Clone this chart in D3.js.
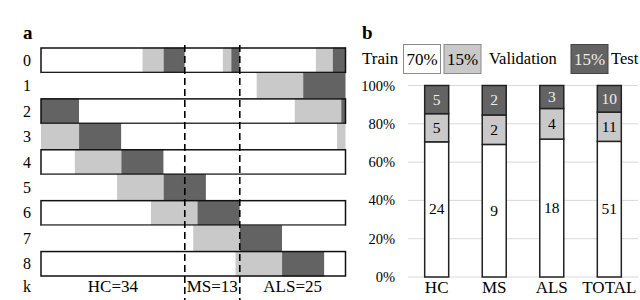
<!DOCTYPE html>
<html>
<head>
<meta charset="utf-8">
<script src="https://cdn.jsdelivr.net/npm/d3@7"></script>
<style>
  body { margin: 0; background: #fff; }
  svg { display: block; font-family: "Liberation Serif", "DejaVu Serif", serif; }
</style>
</head>
<body>
<div id="chart"></div>
<script>
var width = 640,
	height = 300;

// panel a: each row is a run-length list of [kind, subjects]
// t = train, v = validation, x = test
var rowLabels = ["0", "1", "2", "3", "4", "5", "6", "7", "8"];
var row0 = [["t",24],["v",5],["x",5],["t",9],["v",2],["x",2],["t",18],["v",4],["x",3]];
var row1 = [["t",51],["v",11],["x",10]];
var row2 = [["x",9],["t",51],["v",11],["x",1]];
var row3 = [["v",9],["x",10],["t",51],["v",2]];
var row4 = [["t",8],["v",11],["x",10],["t",43]];
var row5 = [["t",18],["v",11],["x",10],["t",33]];
var row6 = [["t",26],["v",11],["x",10],["t",25]];
var row7 = [["t",36],["v",11],["x",10],["t",15]];
var row8 = [["t",46],["v",11],["x",10],["t",5]];
var rows = [row0, row1, row2, row3, row4, row5, row6, row7, row8];
var groupNames = ["HC", "MS", "ALS"];
var groupSizes = [34, 13, 25];

// panel b
var categories = ["HC", "MS", "ALS", "TOTAL"];
var trainCounts = [24, 9, 18, 51];
var valCounts = [5, 2, 4, 11];
var testCounts = [5, 2, 3, 10];
var yTicks = [0, 0.2, 0.4, 0.6, 0.8, 1];

var fillOf = { t: "#ffffff", v: "#c9c9c9", x: "#636363" };

var svg = d3.select("#chart").append("svg")
	.attr("width", width)
	.attr("height", height);

// ---------- panel a ----------
var total = d3.sum(groupSizes);
var xa = d3.scaleLinear().domain([0, total]).range([41, 345.5]);
var ya = d3.scaleBand().domain(rowLabels).range([47.5, 276.5]).padding(0);

svg.append("text")
	.attr("x", 23).attr("y", 39)
	.attr("font-size", 19).attr("font-weight", "bold")
	.text("a");

rows.forEach(function(row, i) {
	var pos = 0;
	var g = svg.append("g");
	row.forEach(function(seg) {
		g.append("rect")
			.attr("x", xa(pos))
			.attr("y", ya(rowLabels[i]))
			.attr("width", xa(pos + seg[1]) - xa(pos))
			.attr("height", ya.bandwidth())
			.attr("fill", fillOf[seg[0]]);
		pos += seg[1];
	});
	if(i % 2 == 0) {
		g.append("rect")
			.attr("x", xa(0))
			.attr("y", ya(rowLabels[i]) + 0.5)
			.attr("width", xa(total) - xa(0))
			.attr("height", ya.bandwidth() - 1)
			.attr("fill", "none")
			.attr("stroke", "#111")
			.attr("stroke-width", 1.5);
	}
	svg.append("text")
		.attr("x", 27)
		.attr("y", ya(rowLabels[i]) + ya.bandwidth() / 2 + 5.5)
		.attr("text-anchor", "middle")
		.attr("font-size", 16)
		.text(rowLabels[i]);
});

svg.append("text")
	.attr("x", 27).attr("y", 292)
	.attr("text-anchor", "middle")
	.attr("font-size", 16)
	.text("k");

var cum = 0;
groupSizes.forEach(function(n, i) {
	svg.append("text")
		.attr("x", xa(cum + n / 2))
		.attr("y", 292)
		.attr("text-anchor", "middle")
		.attr("font-size", 17)
		.text(groupNames[i] + "=" + n);
	cum += n;
	if(i < groupSizes.length - 1) {
		svg.append("line")
			.attr("x1", xa(cum)).attr("x2", xa(cum))
			.attr("y1", 45).attr("y2", 300)
			.attr("stroke", "#000")
			.attr("stroke-width", 1.6)
			.attr("stroke-dasharray", "7,4");
	}
});

// ---------- panel b ----------
var xb = d3.scaleBand().domain(categories).range([408, 638])
	.paddingInner(0.583).paddingOuter(0.29);
var yb = d3.scaleLinear().domain([0, 1]).range([277, 85.5]);

svg.append("text")
	.attr("x", 362).attr("y", 39)
	.attr("font-size", 19).attr("font-weight", "bold")
	.text("b");

// legend
svg.append("text").attr("x", 362).attr("y", 64).attr("font-size", 17).text("Train");
var legendBoxes = [
	{ x: 403.5, fill: fillOf.t, stroke: "#8a8a8a", txt: "#000" },
	{ x: 444, fill: fillOf.v, stroke: "#8a8a8a", txt: "#000" },
	{ x: 571, fill: fillOf.x, stroke: "#444", txt: "#eee" }
];
var legendText = ["70%", "15%", "15%"];
legendBoxes.forEach(function(b, i) {
	svg.append("rect")
		.attr("x", b.x).attr("y", 44.5)
		.attr("width", 37).attr("height", 29)
		.attr("fill", b.fill)
		.attr("stroke", b.stroke).attr("stroke-width", 1);
	svg.append("text")
		.attr("x", b.x + 18.5).attr("y", 65)
		.attr("text-anchor", "middle")
		.attr("font-size", 17)
		.attr("fill", b.txt)
		.text(legendText[i]);
});
svg.append("text").attr("x", 489).attr("y", 64).attr("font-size", 16.5).text("Validation");
svg.append("text").attr("x", 611).attr("y", 64).attr("font-size", 16.5).text("Test");

// grid + y axis
svg.selectAll(".grid").data(yTicks).enter().append("line")
	.attr("class", "grid")
	.attr("x1", 408).attr("x2", 638)
	.attr("y1", function(d) { return yb(d); })
	.attr("y2", function(d) { return yb(d); })
	.attr("stroke", "#d9d9d9").attr("stroke-width", 1);

var pct = d3.format(".0%");
svg.selectAll(".ytick").data(yTicks).enter().append("text")
	.attr("class", "ytick")
	.attr("x", 395)
	.attr("y", function(d) { return yb(d) + 5; })
	.attr("text-anchor", "end")
	.attr("font-size", 14.5)
	.text(function(d) { return pct(d); });

categories.forEach(function(c, i) {
	var n = trainCounts[i] + valCounts[i] + testCounts[i];
	var parts = [
		{ k: "t", v: trainCounts[i] },
		{ k: "v", v: valCounts[i] },
		{ k: "x", v: testCounts[i] }
	];
	var acc = 0;
	parts.forEach(function(p) {
		var y0 = yb(acc / n), y1 = yb((acc + p.v) / n);
		svg.append("rect")
			.attr("x", xb(c))
			.attr("y", y1)
			.attr("width", xb.bandwidth())
			.attr("height", y0 - y1)
			.attr("fill", fillOf[p.k])
			.attr("stroke", "#222")
			.attr("stroke-width", 1.5);
		svg.append("text")
			.attr("x", xb(c) + xb.bandwidth() / 2)
			.attr("y", (y0 + y1) / 2 + 5)
			.attr("text-anchor", "middle")
			.attr("font-size", 15.5)
			.attr("fill", p.k == "x" ? "#eee" : "#000")
			.text(p.v);
		acc += p.v;
	});
	svg.append("text")
		.attr("x", xb(c) + xb.bandwidth() / 2)
		.attr("y", 293)
		.attr("text-anchor", "middle")
		.attr("font-size", 17)
		.text(c);
});
</script>
</body>
</html>
